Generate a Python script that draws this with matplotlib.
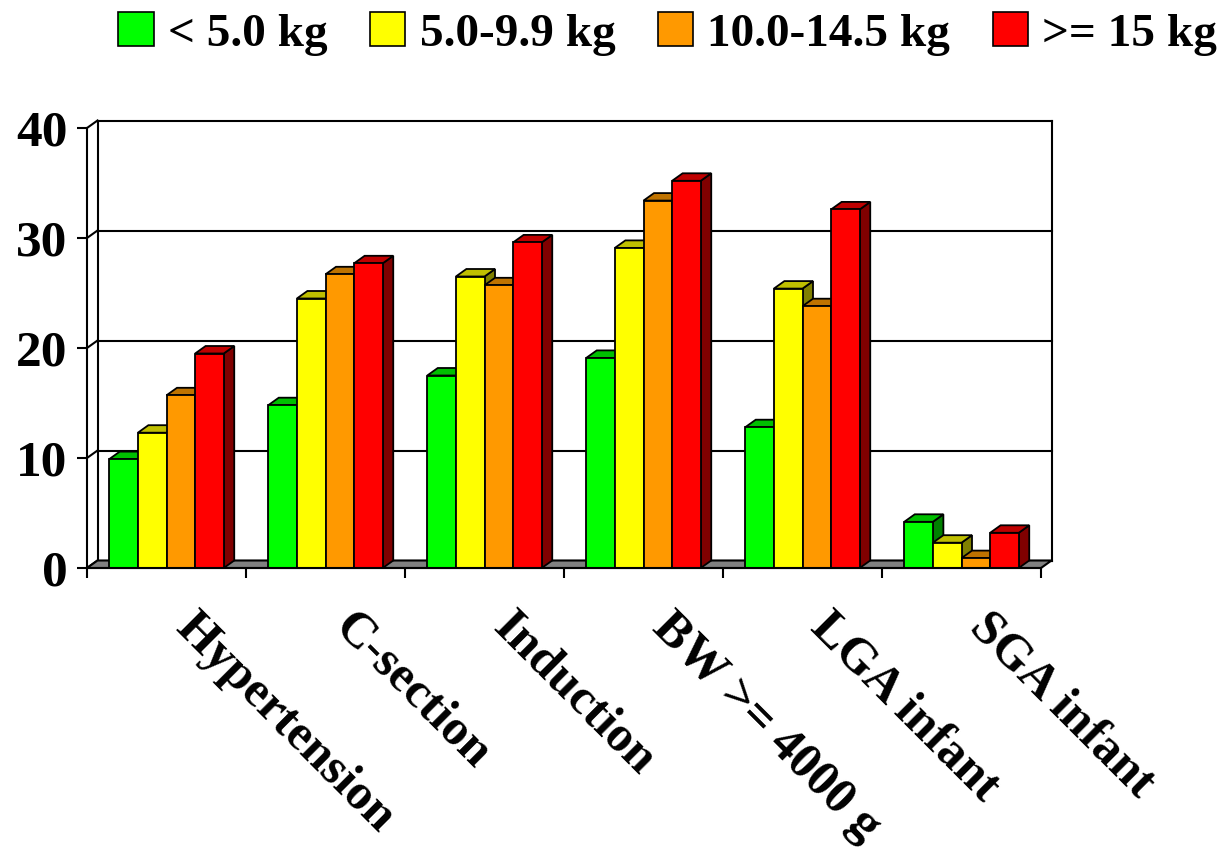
import matplotlib.pyplot as plt
import numpy as np
from matplotlib.patches import Patch, Polygon
from matplotlib.transforms import offset_copy

plt.rcParams['font.family'] = ['Liberation Serif', 'DejaVu Serif']
plt.rcParams['font.weight'] = 'bold'

categories = ['Hypertension', 'C-section', 'Induction', 'BW >= 4000 g', 'LGA infant', 'SGA infant']
series_names = ['< 5.0 kg', '5.0-9.9 kg', '10.0-14.5 kg', '>= 15 kg']
under_5 = [9.9, 14.8, 17.5, 19.1, 12.8, 4.2]
from_5_to_10 = [12.3, 24.5, 26.5, 29.1, 25.4, 2.3]
from_10_to_15 = [15.7, 26.7, 25.7, 33.4, 23.8, 0.9]
over_15 = [19.5, 27.7, 29.6, 35.2, 32.6, 3.2]
y_ticks = [0, 10, 20, 30, 40]

series = [under_5, from_5_to_10, from_10_to_15, over_15]
colors = ['#00ff00', '#ffff00', '#ff9900', '#ff0000']


def shade(c, f):
    r, g, b = [int(c[i:i + 2], 16) / 255 for i in (1, 3, 5)]
    return (r * f, g * f, b * f)


fig = plt.figure(figsize=(12.23, 8.56), dpi=100)
ax = fig.add_axes([87 / 1223, 288 / 856, 954 / 1223, 440 / 856])
n = len(categories)
ax.set_xlim(0, n)
ax.set_ylim(0, 40)

# depth of the fake 3d box, in data units
dx = 10.5 / 159
dy = 7.5 / 11
lw = 1.3

# back wall + gridlines
for v in y_ticks:
    ax.plot([dx, n + dx], [v + dy, v + dy], color='black', lw=1.5, zorder=1, clip_on=False)
    ax.plot([0, dx], [v, v + dy], color='black', lw=1.5, zorder=1, clip_on=False)
ax.plot([dx, dx], [dy, 40 + dy], color='black', lw=1.5, zorder=1, clip_on=False)
ax.plot([n + dx, n + dx], [dy, 40 + dy], color='black', lw=1.5, zorder=1, clip_on=False)

# floor
ax.add_patch(Polygon([(0, 0), (n, 0), (n + dx, dy), (dx, dy)], closed=True,
                     facecolor='#808080', edgecolor='black', lw=1.5, zorder=1.5, clip_on=False))

width = 0.18
x = np.arange(n) + 0.5
z = 3
for ci in range(n):
    for j, vals in enumerate(series):
        bars = ax.bar(x[ci] + (j - 1.5) * width, vals[ci], width, color=colors[j],
                      edgecolor='black', linewidth=lw, zorder=z + 0.2)
        r = bars[0]
        x0, x1, h = r.get_x(), r.get_x() + r.get_width(), r.get_height()
        ax.add_patch(Polygon([(x0, h), (x0 + dx, h + dy), (x1 + dx, h + dy), (x1, h)], closed=True,
                             facecolor=shade(colors[j], 0.75), edgecolor='black', lw=lw,
                             zorder=z + 0.1, clip_on=False))
        ax.add_patch(Polygon([(x1, 0), (x1, h), (x1 + dx, h + dy), (x1 + dx, dy)], closed=True,
                             facecolor=shade(colors[j], 0.5), edgecolor='black', lw=lw,
                             zorder=z, clip_on=False))
        z += 1

for s in ['top', 'right']:
    ax.spines[s].set_visible(False)
for s in ['left', 'bottom']:
    ax.spines[s].set_linewidth(1.5)
    ax.spines[s].set_zorder(200)

ax.set_yticks(y_ticks)
ax.set_yticklabels([str(v) for v in y_ticks], fontsize=37, fontweight='bold')
ax.tick_params(axis='y', length=7, width=1.5, pad=7)
ax.set_xticks(np.arange(n + 1))
ax.set_xticklabels([])
ax.tick_params(axis='x', length=7, width=1.5)

trans = offset_copy(ax.get_xaxis_transform(), fig=fig, x=23, y=-26, units='points')
for ci, lab in enumerate(categories):
    ax.text(x[ci], 0, lab, transform=trans, rotation=-45, rotation_mode='anchor',
            ha='left', va='top', fontsize=36, fontweight='bold')

handles = [Patch(facecolor=c, edgecolor='black', linewidth=1.2) for c in colors]
fig.legend(handles, series_names, loc='upper center', bbox_to_anchor=(0.546, 1.0), ncol=4,
           frameon=False, prop=dict(family='Liberation Serif', weight='bold', size=34),
           handlelength=0.75, handleheight=0.75, handletextpad=0.3, columnspacing=0.9,
           borderaxespad=0.1, borderpad=0.15)

fig.savefig('out.png', dpi=100)
